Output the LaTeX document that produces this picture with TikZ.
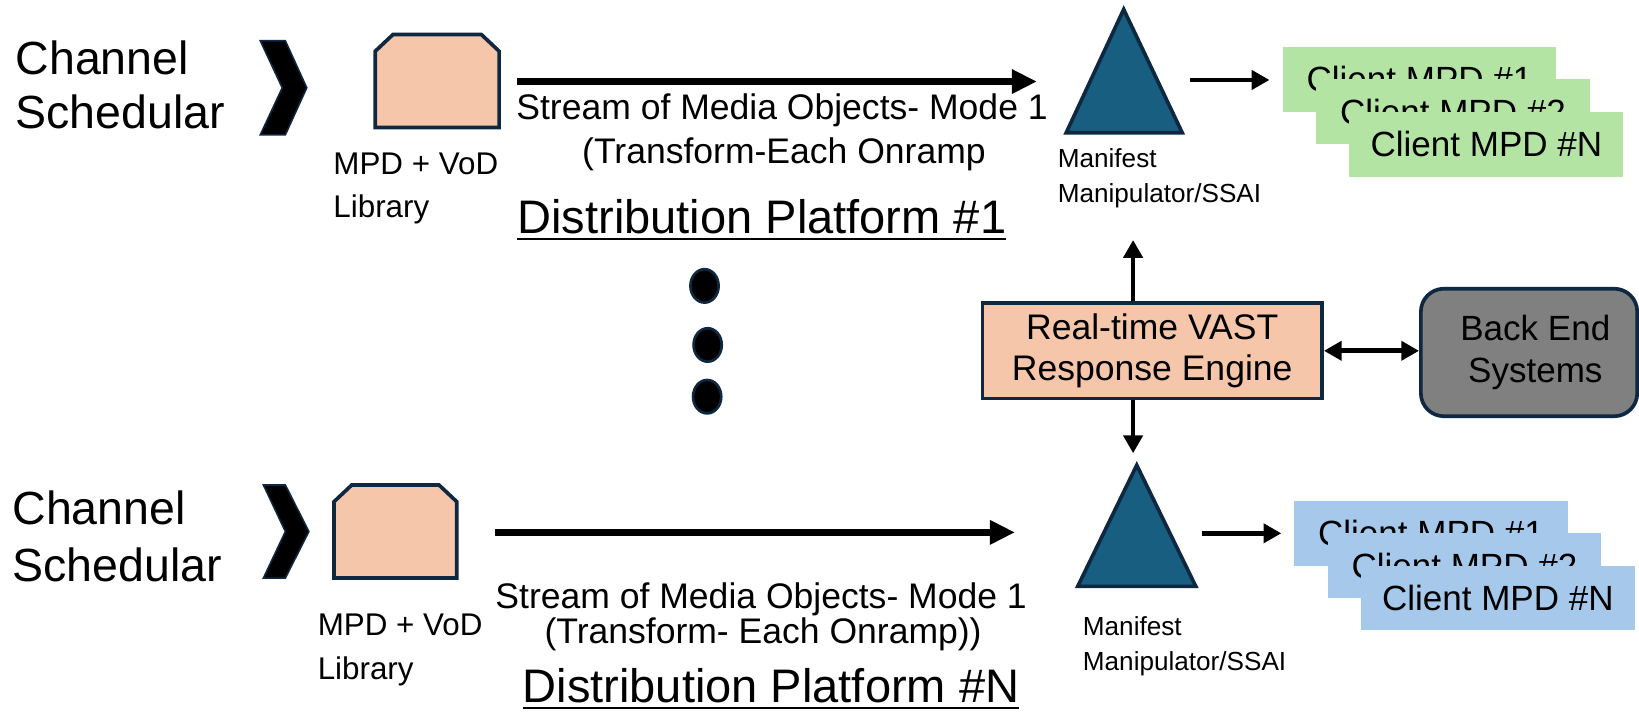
\documentclass[tikz,border=0pt]{standalone}
\usepackage{fontspec}
\setmainfont{Liberation Sans}
\usetikzlibrary{arrows.meta}
\newcommand\txtsz[2]{\fontsize{#1}{#2}\selectfont}

\definecolor{peach}{HTML}{F6C6AB}
\definecolor{navyline}{HTML}{0E2841}
\definecolor{mmteal}{HTML}{175E81}
\definecolor{mpdgreen}{HTML}{B4E4A3}
\definecolor{mpdblue}{HTML}{A6C9EB}
\definecolor{backgray}{HTML}{808080}

% multi-line labels are placed by the baseline of their last line
\tikzset{
  lbl/.style={inner sep=0pt, outer sep=0pt, anchor=base west, align=left},
  clbl/.style={inner sep=0pt, outer sep=0pt, anchor=base, align=center},
  bigarrow/.style={line width=6.5pt, -{Triangle[length=24pt,width=22pt]}},
  smallarrow/.style={line width=4.5pt, -{Triangle[length=17pt,width=18pt]}},
  dblarrow/.style={line width=4.5pt, {Triangle[length=17pt,width=18pt]}-{Triangle[length=17pt,width=18pt]}},
  libbox/.style={fill=peach, draw=navyline, line width=3.5pt, line join=miter},
  chevronshape/.style={fill=black, draw=navyline, line width=1.5pt, line join=miter},
  manip/.style={fill=mmteal, draw=navyline, line width=3.5pt, line join=miter},
  dotshape/.style={fill=black, draw=navyline, line width=2.5pt},
  client/.style={minimum width=262pt, minimum height=62pt, inner sep=0pt, font=\txtsz{33.5}{40}},
  vastbox/.style={fill=peach, draw=navyline, line width=3.5pt, minimum width=325pt, minimum height=91pt,
    inner sep=0pt, align=center, font=\txtsz{34}{40}},
  backbox/.style={fill=backgray, draw=navyline, line width=3.5pt, rounded corners=22pt,
    minimum width=207pt, minimum height=122pt, inner sep=0pt, align=center, font=\txtsz{33.5}{41}},
  ulinestyle/.style={line width=2pt}
}

\begin{document}
\begin{tikzpicture}[x=1pt, y=-1pt]
\useasboundingbox (0,0) rectangle (1568,683);

% ---------- Distribution platform #1 ----------
\node[lbl, font=\txtsz{44.5}{52}] (chanA) at (15,123) {Channel\\Schedular};
\draw[chevronshape] (249,39) -- (273,39) -- (293.5,84) -- (273,129) -- (249,129) -- (270,84) -- cycle;
\draw[libbox] (359,122) -- (359,49) -- (376,33) -- (460.5,33) -- (477.5,49) -- (477.5,122) -- cycle;
\node[lbl, font=\txtsz{30}{41}] (mpdA) at (319,208) {MPD + VoD\\Library};

\coordinate (streamAs) at (495,78);
\coordinate (streamAe) at (992,78);
\draw[bigarrow] (streamAs) -- (streamAe);
\node[lbl, font=\txtsz{34}{40}] (streamA) at (494,114) {Stream of Media Objects- Mode 1};
\node[clbl, font=\txtsz{34}{40}] (transA) at (750,156) {(Transform-Each Onramp};
\node[lbl, font=\txtsz{45}{52}] (distA) at (495,223) {Distribution Platform \#1};
\draw[ulinestyle] ([yshift=-5.5pt]distA.base west) -- ([yshift=-5.5pt]distA.base east);

\draw[manip] (1075,9) -- (1131,127) -- (1020,127) -- cycle;
\node[lbl, font=\txtsz{25}{33.5}] (manA) at (1012,193.5) {Manifest\\Manipulator/SSAI};

\coordinate (outAs) at (1138,76.5);
\coordinate (outAe) at (1214.5,76.5);
\draw[smallarrow] (outAs) -- (outAe);

\node[client, fill=mpdgreen] (cgA1) at (1358,76) {Client MPD \#1};
\node[client, fill=mpdgreen] (cgA2) at (1390,107) {Client MPD \#2};
\node[client, fill=mpdgreen] (cgA3) at (1422,138) {Client MPD \#N};

% ---------- ellipsis between platforms ----------
\draw[dotshape] (674,273.5) ellipse [x radius=13.5, y radius=16];
\draw[dotshape] (677,330) ellipse [x radius=13.5, y radius=16];
\draw[dotshape] (676.5,379.5) ellipse [x radius=13.5, y radius=16];

% ---------- VAST engine and back end ----------
\node[vastbox] (vast) at (1102.3,335.6) {Real-time VAST\\Response Engine};
\node[backbox] (backend) at (1462.8,337.2) {\hspace*{12pt}Back End\\\hspace*{12pt}Systems};
\coordinate (upend) at (1084,229.6);
\coordinate (dnend) at (1084,433.6);
\draw[smallarrow] (vast.north -| upend) -- (upend);
\draw[smallarrow] (vast.south -| dnend) -- (dnend);
\draw[dblarrow] (vast.east) -- (vast.east -| backend.west);

% ---------- Distribution platform #N ----------
\node[lbl, font=\txtsz{44.5}{54}] (chanB) at (12,556) {Channel\\Schedular};
\draw[chevronshape] (252,464) -- (273,464) -- (295.5,508.5) -- (273,553) -- (252,553) -- (273,508.5) -- cycle;
\draw[libbox] (319.5,553) -- (319.5,480) -- (336.5,464) -- (420,464) -- (437,480) -- (437,553) -- cycle;
\node[lbl, font=\txtsz{30}{42}] (mpdB) at (304,650) {MPD + VoD\\Library};

\coordinate (streamBs) at (473.6,509.3);
\coordinate (streamBe) at (971,509.3);
\draw[bigarrow] (streamBs) -- (streamBe);
\node[lbl, font=\txtsz{34}{40}] (streamB) at (474,582) {Stream of Media Objects- Mode 1};
\node[clbl, font=\txtsz{34}{40}] (transB) at (730,615.5) {(Transform- Each Onramp))};
\node[lbl, font=\txtsz{45}{52}] (distB) at (500,672) {Distribution Platform \#N};
\draw[ulinestyle] ([yshift=-5.5pt]distB.base west) -- ([yshift=-5.5pt]distB.base east);

\draw[manip] (1087.5,445) -- (1144,561) -- (1031,561) -- cycle;
\node[lbl, font=\txtsz{25}{33.5}] (manB) at (1036,641) {Manifest\\Manipulator/SSAI};

\coordinate (outBs) at (1149.5,510.2);
\coordinate (outBe) at (1225.8,510.2);
\draw[smallarrow] (outBs) -- (outBe);

\node[client, fill=mpdblue] (cbB1) at (1369,510) {Client MPD \#1};
\node[client, fill=mpdblue] (cbB2) at (1401,541) {Client MPD \#2};
\node[client, fill=mpdblue] (cbB3) at (1433,572) {Client MPD \#N};
\end{tikzpicture}
\end{document}
